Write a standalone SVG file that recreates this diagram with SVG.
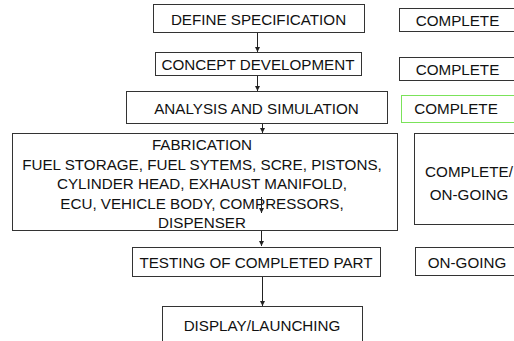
<svg xmlns="http://www.w3.org/2000/svg" width="514" height="341" viewBox="0 0 514 341">
<style>
rect{fill:#fff;stroke:#333;stroke-width:1}
.g{stroke:#7be35a}
text{font-family:"Liberation Sans",Arial,sans-serif;font-size:15.2px;fill:#111;text-anchor:middle}
.c line{stroke:#222;stroke-width:1}
</style>
<defs>
<marker id="ah" markerWidth="6" markerHeight="6" refX="5" refY="3" orient="auto" markerUnits="userSpaceOnUse"><path d="M0,0.5 L5,3 L0,5.5 Z" fill="#222"/></marker>
</defs>
<rect x="0" y="0" width="514" height="341" style="fill:#fff;stroke:none"/>
<g id="n1"><rect x="153.5" y="4.5" width="211" height="28"/><text x="258.5" y="25">DEFINE SPECIFICATION</text></g>
<g id="s1"><rect x="399.5" y="8.5" width="130" height="23"/><text x="457.5" y="26">COMPLETE</text></g>
<g id="n2"><rect x="155.5" y="52.5" width="206" height="23"/><text x="258" y="70">CONCEPT DEVELOPMENT</text></g>
<g id="s2"><rect x="399.5" y="57.5" width="130" height="23"/><text x="457.5" y="75">COMPLETE</text></g>
<g id="n3"><rect x="126.5" y="91.5" width="261" height="32"/><text x="256.5" y="114">ANALYSIS AND SIMULATION</text></g>
<g id="s3"><rect class="g" x="401.5" y="95.5" width="130" height="27"/><text x="456" y="114">COMPLETE</text></g>
<g id="n4"><rect x="12.5" y="133.5" width="385" height="97"/>
<text x="202" y="150">FABRICATION</text>
<text x="202" y="169.5">FUEL STORAGE, FUEL SYTEMS, SCRE, PISTONS,</text>
<text x="202" y="189">CYLINDER HEAD, EXHAUST MANIFOLD,</text>
<text x="202" y="208.5">ECU, VEHICLE BODY,  COMPRESSORS,</text>
<text x="202" y="228">DISPENSER</text></g>
<g id="s4"><rect x="414.5" y="133.5" width="120" height="91"/><text x="469" y="177">COMPLETE/</text><text x="469" y="200">ON-GOING</text></g>
<g id="n5"><rect x="132.5" y="247.5" width="248" height="29"/><text x="256" y="268">TESTING OF COMPLETED PART</text></g>
<g id="s5"><rect x="415.5" y="247.5" width="120" height="28"/><text x="467" y="268">ON-GOING</text></g>
<g id="n6"><rect x="162.5" y="306.5" width="200" height="40"/><text x="262" y="331">DISPLAY/LAUNCHING</text></g>
<g class="c" id="connectors">
<line x1="257.5" y1="33" x2="257.5" y2="52" marker-end="url(#ah)"/>
<line x1="257.5" y1="76" x2="257.5" y2="91" marker-end="url(#ah)"/>
<line x1="262.5" y1="124" x2="262.5" y2="133" marker-end="url(#ah)"/>
<line x1="261.5" y1="197" x2="261.5" y2="213" marker-end="url(#ah)"/>
<line x1="261.5" y1="231" x2="261.5" y2="246" marker-end="url(#ah)"/>
<line x1="262.5" y1="277" x2="262.5" y2="306" marker-end="url(#ah)"/>
</g>
</svg>
